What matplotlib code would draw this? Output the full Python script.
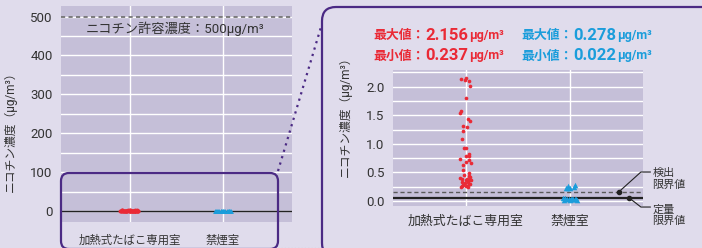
import matplotlib.pyplot as plt
import matplotlib.transforms as mtransforms
from matplotlib.patches import FancyBboxPatch
from matplotlib.offsetbox import TextArea, HPacker, AnnotationBbox
from matplotlib.ticker import MultipleLocator
import numpy as np

plt.rcParams['font.family'] = ['Roboto', 'Noto Sans CJK JP', 'DejaVu Sans']

# data
categories = ['加熱式たばこ専用室', '禁煙室']
red_vals = [2.156, 2.14, 2.12, 2.09, 2.01, 1.80, 1.58, 1.53, 1.43, 1.40,
            1.31, 1.30, 1.23, 1.09, 0.93, 0.92, 0.83, 0.79, 0.79, 0.74,
            0.72, 0.69, 0.66, 0.63, 0.54, 0.49, 0.44, 0.41, 0.39, 0.37,
            0.36, 0.36, 0.34, 0.31, 0.29, 0.28, 0.26, 0.26, 0.25, 0.237,
            0.33, 0.30, 0.27, 0.42, 0.45, 0.38]
red_jitter = [0.0, -0.045, -0.01, 0.03, 0.04, 0.0, -0.045, -0.055, 0.02, 0.04,
              -0.03, 0.01, -0.025, -0.035, -0.015, 0.005, 0.03, 0.03, 0.0, -0.06,
              0.03, 0.0, 0.05, -0.025, -0.03, 0.03, 0.025, -0.055, -0.035, 0.05,
              0.0, 0.03, 0.02, -0.005, 0.03, -0.025, -0.04, 0.01, -0.05, 0.02,
              -0.04, 0.04, 0.0, 0.04, -0.02, 0.01]
blue_vals = [0.278, 0.26, 0.25, 0.23, 0.23, 0.22,
             0.05, 0.045, 0.04, 0.035, 0.03, 0.03, 0.028, 0.025, 0.025, 0.022, 0.03, 0.04]
blue_jitter = [0.05, -0.02, 0.04, -0.02, 0.0, -0.04,
               -0.07, -0.05, -0.03, -0.01, 0.01, 0.03, 0.05, 0.07, -0.06, 0.0, 0.06, 0.02]
limit_allowed = 500
limit_detect = 0.163
limit_quant = 0.05
red_max, red_min = 2.156, 0.237
blue_max, blue_min = 0.278, 0.022

BG = '#e0dcec'
PANEL = '#c5bfd8'
PURPLE = '#4b2a84'
RED = '#ea2a36'
BLUE = '#1b9ddb'
GRAY = '#333333'

W, H = 702, 248
fig = plt.figure(figsize=(W / 100, H / 100), dpi=100)
fig.patch.set_facecolor(BG)


def px_axes(l, t, r, b, **kw):
    return fig.add_axes([l / W, 1 - b / H, (r - l) / W, (b - t) / H], **kw)


def overlay(z):
    a = fig.add_axes([0, 0, 1, 1], zorder=z)
    a.set_xlim(0, W)
    a.set_ylim(H, 0)
    a.axis('off')
    a.patch.set_alpha(0)
    return a


bg = overlay(0)
bg.add_patch(FancyBboxPatch((322, 7), 420, 250, boxstyle='round,pad=0,rounding_size=14',
                            facecolor=BG, edgecolor=PURPLE, lw=1.6))


def style(ax):
    ax.set_facecolor(PANEL)
    for s in ax.spines.values():
        s.set_visible(False)
    ax.tick_params(length=0, colors=GRAY, labelsize=9.5, pad=6)
    ax.grid(which='both', axis='y', color='white', lw=1)
    ax.grid(which='major', axis='x', color='white', lw=1)
    ax.set_axisbelow(True)


x_red = np.array(red_jitter)
x_blue = 1 + np.array(blue_jitter)

# left: full scale
axL = px_axes(61, 6, 292, 222, zorder=1)
style(axL)
axL.set_xlim(-0.742, 1.742)
axL.set_ylim(-28, 527)
axL.yaxis.set_major_locator(MultipleLocator(100))
axL.yaxis.set_minor_locator(MultipleLocator(50))
axL.tick_params(which='minor', length=0)
axL.set_xticks([0, 1], categories, fontsize=8.2)
lbl = axL.get_xticklabels()[0]
lbl.set_transform(lbl.get_transform() + mtransforms.ScaledTranslation(-0.12, 0, fig.dpi_scale_trans))
axL.tick_params(axis='x', pad=9)
axL.axhline(limit_allowed, color='#6a6a6a', ls=(0, (2.5, 2)), lw=1.2)
axL.axhline(0, color='#222222', lw=1)
axL.scatter(x_red * 1.8, red_vals, s=8, color=RED, zorder=3, lw=0)
axL.scatter(1 + np.array(blue_jitter) * 1.3, blue_vals, marker='^', s=12, color=BLUE, zorder=3, lw=0)
axL.text(0.484, 468, f'ニコチン許容濃度：{limit_allowed}μg/m³', ha='center', va='center',
         fontsize=9.5, color=GRAY)
axL.set_ylabel('ニコチン濃度（μg/m³）', fontsize=8.5, color=GRAY)
axL.yaxis.set_label_coords(-0.19, 0.43)

# right: zoomed
axR = px_axes(393, 70, 643, 206, zorder=1)
style(axR)
axR.set_xlim(-0.7, 1.7)
axR.set_ylim(-0.087, 2.29)
axR.yaxis.set_major_locator(MultipleLocator(0.5))
axR.yaxis.set_minor_locator(MultipleLocator(0.25))
axR.yaxis.set_major_formatter(lambda v, p: f'{v:.1f}')
axR.tick_params(which='minor', length=0)
axR.set_xticks([0, 1], categories, fontsize=9.3)
axR.tick_params(axis='x', pad=6)
axR.axhline(limit_detect, color='#5a5a5a', ls=(0, (3, 2)), lw=1)
axR.axhline(limit_quant, color='#222222', lw=1.6)
axR.scatter(x_red, red_vals, s=7, color=RED, zorder=3, lw=0)
axR.scatter(x_blue, blue_vals, marker='^', s=16, color=BLUE, zorder=3, lw=0)
axR.set_ylabel('ニコチン濃度（μg/m³）', fontsize=8.5, color=GRAY)
axR.yaxis.set_label_coords(-0.164, 0.68)

# limit callouts
axR.plot([1.47, 1.68, 1.77], [limit_detect, 0.507, 0.507], color='#222222', lw=0.8, clip_on=False)
axR.plot([1.57, 1.68, 1.77], [limit_quant, -0.105, -0.105], color='#222222', lw=0.8, clip_on=False)
axR.plot([1.47, 1.57], [limit_detect, limit_quant], 'o', ms=3, color='#222222', clip_on=False)
axR.text(1.79, 0.39, '検出\n限界値', ha='left', va='center', fontsize=8, color=GRAY,
         linespacing=1.15, clip_on=False)
axR.text(1.79, -0.245, '定量\n限界値', ha='left', va='center', fontsize=8, color=GRAY,
         linespacing=1.15, clip_on=False)

# min / max headers
fg = overlay(3)


def header(x, y, label, value, color):
    parts = [TextArea(label, textprops=dict(color=color, fontsize=9.3, fontweight='bold')),
             TextArea(f'{value:.3f}', textprops=dict(color=color, fontsize=12, fontweight='bold')),
             TextArea('μg/m³', textprops=dict(color=color, fontsize=9, fontweight='bold'))]
    box = HPacker(children=parts, align='baseline', pad=0, sep=0.5)
    fg.add_artist(AnnotationBbox(box, (x, y), xycoords='data', box_alignment=(0, 0.5),
                                 frameon=False, pad=0))


header(373, 35, '最大値：', red_max, RED)
header(373, 55, '最小値：', red_min, RED)
header(521, 35, '最大値：', blue_max, BLUE)
header(521, 55, '最小値：', blue_min, BLUE)

# zoom box and connector
fg.add_patch(FancyBboxPatch((61, 173), 217, 76, boxstyle='round,pad=0,rounding_size=8',
                            facecolor='none', edgecolor=PURPLE, lw=1.6))
fg.plot([278, 321], [171, 27], color=PURPLE, ls=(0, (1, 2)), lw=1.6)
fg.plot([281, 320], [247.5, 247.5], color='#9a96aa', ls=(0, (1, 2)), lw=0.8)

fig.savefig('out.png', dpi=100, facecolor=BG)
